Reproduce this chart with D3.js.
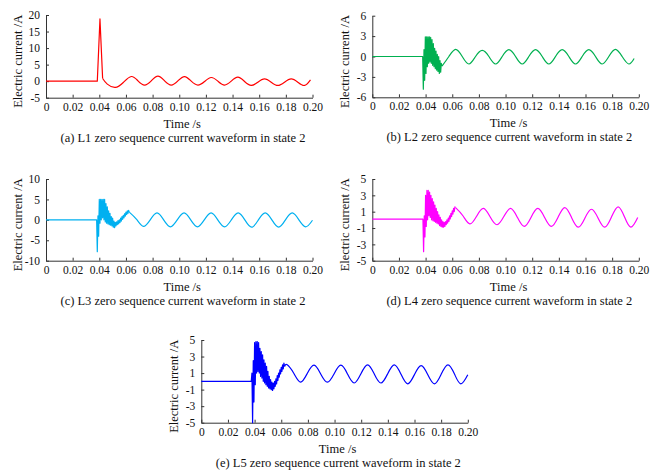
<!DOCTYPE html>
<html>
<head>
<meta charset="utf-8">
<script src="https://cdn.jsdelivr.net/npm/d3@7"></script>
<style>
  body { margin: 0; background: #fff; }
  svg { display: block; font-family: "Liberation Serif", "Times New Roman", serif; }
  .axis path, .axis line { stroke: #333; }
  .axis text { font-size: 11.5px; fill: #111; font-family: "Liberation Serif", "Times New Roman", serif; }
  .label { font-size: 12.5px; fill: #111; }
  .line { fill: none; stroke-width: 1.2; stroke-linejoin: round; }
</style>
</head>
<body>
<svg id="chart" width="651" height="475"></svg>
<script>
// shared time axis
var xTicks = [0, 0.02, 0.04, 0.06, 0.08, 0.10, 0.12, 0.14, 0.16, 0.18, 0.20];
var xTickLabels = ["0", "0.02", "0.04", "0.06", "0.08", "0.10", "0.12", "0.14", "0.16", "0.18", "0.20"];

var captions = [
  "(a) L1 zero sequence current waveform in state 2",
  "(b) L2 zero sequence current waveform in state 2",
  "(c) L3 zero sequence current waveform in state 2",
  "(d) L4 zero sequence current waveform in state 2",
  "(e) L5 zero sequence current waveform in state 2"
];

var l1Ticks = [-5, 0, 5, 10, 15, 20];
var l2Ticks = [-6, -3, 0, 3, 6];
var l3Ticks = [-10, -5, 0, 5, 10];
var l4Ticks = [-5, -3, -1, 1, 3, 5];
var l5Ticks = [-5, -3, -1, 1, 3, 5];

// sampling step of the fault bursts (s)
var burstStep = 0.0005;

// L1: spike then slow oscillation
var l1Spike = [[0, 0], [0.0385, 0], [0.0405, 18.8], [0.0425, 0.8]];
var l1Wave = [[0.0425, 0.8], [0.046, -0.9], [0.052, -1.9], [0.058, -0.4], [0.064, 1.4], [0.069, 0.1],
  [0.074, -1.2], [0.079, 0.1], [0.084, 1.5], [0.089, 0.1], [0.094, -1.2], [0.099, 0.1], [0.104, 1.4],
  [0.109, 0], [0.114, -1.2], [0.119, -0.1], [0.124, 1.1], [0.129, 0], [0.134, -1.2], [0.139, 0],
  [0.144, 1.2], [0.149, -0.1], [0.154, -1.3], [0.159, -0.3], [0.164, 0.7], [0.169, -0.3], [0.174, -1.3],
  [0.179, -0.3], [0.184, 0.7], [0.189, -0.3], [0.194, -1.3], [0.1985, 0.4]];

// L2
var l2Base = 0, l2BurstStart = 0.0378;
var l2Burst = [-4.8, 1.0, -3.5, 2.9, -2.5, 2.9, -1.5, 2.9, -1.0, 2.9, -0.8, 2.8, -1.0, 2.5, -1.3, 1.9,
  -1.5, 1.2, -1.8, 0.8, -2.0, 0.3, -2.2, 0.0, -2.5, -0.6, -2.3, -1.0, -1.4];
var l2Wave = [[0.0523, -1.4], [0.0575, 0], [0.0625, 1.05], [0.0675, 0], [0.0725, -1.1], [0.0775, 0],
  [0.0825, 0.9], [0.0875, 0], [0.0925, -1.1], [0.0975, 0], [0.1025, 1.0], [0.1075, 0], [0.1125, -1.1],
  [0.1175, 0], [0.1225, 1.0], [0.1275, 0], [0.1325, -1.1], [0.1375, 0], [0.1425, 1.0], [0.1475, 0],
  [0.1525, -1.1], [0.1575, 0], [0.1625, 1.0], [0.1675, 0], [0.1725, -1.1], [0.1775, 0], [0.1825, 1.05],
  [0.1875, 0], [0.1925, -1.1], [0.1965, -0.3]];

// L3
var l3Base = 0, l3BurstStart = 0.038;
var l3Burst = [-7.8, 1.0, -4.0, 5.0, -0.8, 5.0, 0.0, 5.0, 0.5, 5.0, 0.0, 5.0, -0.5, 4.0, -0.8, 3.2,
  -1.0, 2.2, -1.2, 1.6, -1.3, 0.8, -1.5, 0.4, -1.8, -0.3, -1.9, -0.6, -1.5, -0.5, -1.2, -0.2, -1.0, 0.0,
  -0.7, 0.4, -0.3, 0.8, 0.1, 1.1, 0.5, 1.5, 0.9, 1.9, 1.3, 2.2, 1.6, 2.3, 1.9];
var l3Wave = [[0.0625, 1.9], [0.068, 0.1], [0.0731, -1.6], [0.0782, 0], [0.0833, 1.7], [0.0883, 0],
  [0.0934, -1.7], [0.0985, 0], [0.1036, 1.7], [0.1086, 0], [0.1137, -1.7], [0.1188, 0], [0.1239, 1.7],
  [0.1289, 0], [0.134, -1.7], [0.1391, 0], [0.1442, 1.7], [0.1492, 0], [0.1543, -1.8], [0.1594, 0],
  [0.1645, 1.7], [0.1695, 0], [0.1746, -1.8], [0.1797, 0], [0.1848, 1.7], [0.1898, 0], [0.1949, -1.7],
  [0.2, -0.1]];

// L4
var l4Base = 0.1, l4BurstStart = 0.038;
var l4Burst = [-3.9, 0.5, -2.1, 3.0, -0.8, 3.6, 0.0, 3.6, 0.5, 3.4, 0.3, 3.0, 0.0, 2.6, -0.1, 2.2,
  -0.2, 1.8, -0.3, 1.4, -0.4, 1.0, -0.5, 0.6, -0.7, 0.3, -0.8, 0.0, -0.9, -0.2, -0.9, -0.3, -0.8, -0.2,
  -0.6, 0.0, -0.4, 0.2, -0.2, 0.5, 0.1, 0.8, 0.4, 1.1, 0.7, 1.4, 1.0, 1.6, 1.5];
var l4Wave = [[0.0625, 1.5], [0.068, 0.5], [0.0732, -0.5], [0.0783, 0.45], [0.0834, 1.4], [0.0885, 0.35],
  [0.0936, -0.6], [0.0987, 0.4], [0.1038, 1.4], [0.1089, 0.3], [0.114, -0.8], [0.1191, 0.3], [0.1242, 1.4],
  [0.1293, 0.3], [0.1344, -0.8], [0.1395, 0.35], [0.1445, 1.5], [0.1495, 0.3], [0.1545, -0.9], [0.1595, 0.2],
  [0.1645, 1.3], [0.1695, 0.2], [0.1745, -0.9], [0.1795, 0.35], [0.1845, 1.6], [0.1893, 0.35], [0.194, -0.9],
  [0.1992, 0.3]];

// L5
var l5Base = 0, l5BurstStart = 0.0375;
var l5Burst = [1.0, -5.0, 2.5, -2.5, 4.7, -0.4, 4.8, 1.0, 4.8, 1.2, 4.7, 1.0, 4.0, 0.6, 3.6, 0.4,
  3.2, 0.0, 2.6, -0.2, 2.2, -0.4, 1.8, -0.6, 1.2, -0.8, 0.6, -0.9, 0.2, -1.0, -0.1, -1.1, -0.2, -0.9,
  0.0, -0.6, 0.3, -0.3, 0.7, 0.1, 1.0, 0.5, 1.4, 0.9, 1.7, 1.2, 2.0, 1.5, 2.2, 1.8];
var l5Wave = [[0.0625, 1.8], [0.0645, 2.0], [0.0695, 0.95], [0.0745, -0.1], [0.0795, 0.95], [0.0846, 1.95],
  [0.0896, 0.9], [0.0946, -0.1], [0.0996, 0.9], [0.1047, 1.95], [0.1097, 0.9], [0.1147, -0.2], [0.1197, 0.9],
  [0.1248, 2.0], [0.1298, 0.9], [0.1348, -0.2], [0.1398, 0.9], [0.1449, 2.0], [0.1499, 0.85], [0.1549, -0.3],
  [0.1599, 0.8], [0.165, 1.9], [0.17, 0.8], [0.175, -0.3], [0.18, 0.85], [0.1851, 2.0], [0.1901, 0.85],
  [0.1948, -0.3], [0.2, 0.8]];

// flat pre-fault line followed by the sampled burst
function withBurst(base, start, values) {
  var pts = [[0, base], [start, base]];
  values.forEach(function(v, i) { pts.push([start + (i + 1) * burstStep, v]); });
  return pts;
}

var panels = [
  { ticks: l1Ticks, head: l1Spike, wave: l1Wave, color: "#ff0000" },
  { ticks: l2Ticks, head: withBurst(l2Base, l2BurstStart, l2Burst), wave: l2Wave, color: "#00b050" },
  { ticks: l3Ticks, head: withBurst(l3Base, l3BurstStart, l3Burst), wave: l3Wave, color: "#00b0f0" },
  { ticks: l4Ticks, head: withBurst(l4Base, l4BurstStart, l4Burst), wave: l4Wave, color: "#ff00ff" },
  { ticks: l5Ticks, head: withBurst(l5Base, l5BurstStart, l5Burst), wave: l5Wave, color: "#0000ff" }
];

// plot boxes in page pixels
var layout = [
  { left: 46, top: 15, bottom: 97.7 },
  { left: 372.3, top: 15.7, bottom: 97.3 },
  { left: 46, top: 179, bottom: 260.7 },
  { left: 372.3, top: 179, bottom: 260.7 },
  { left: 201.3, top: 340, bottom: 422.7 }
];
var plotW = 266.5;

var svg = d3.select("#chart");

panels.forEach(function(p, i) {
  var box = layout[i];
  var plotH = box.bottom - box.top;

  var x = d3.scaleLinear().domain([0, 0.2]).range([0, plotW]);
  var y = d3.scaleLinear().domain(d3.extent(p.ticks)).range([plotH, 0]);

  var g = svg.append("g")
    .attr("transform", "translate(" + box.left + "," + box.top + ")");

  g.append("g")
    .attr("class", "axis")
    .attr("transform", "translate(0," + plotH + ")")
    .call(d3.axisBottom(x)
      .tickValues(xTicks)
      .tickFormat(function(d, j) { return xTickLabels[j]; })
      .tickSizeInner(-3)
      .tickSizeOuter(0)
      .tickPadding(5));

  g.append("g")
    .attr("class", "axis")
    .call(d3.axisLeft(y)
      .tickValues(p.ticks)
      .tickFormat(String)
      .tickSizeInner(-3)
      .tickSizeOuter(0)
      .tickPadding(6));

  var linear = d3.line().x(d => x(d[0])).y(d => y(d[1]));
  var smooth = d3.line().x(d => x(d[0])).y(d => y(d[1])).curve(d3.curveNatural);

  g.append("path")
    .attr("class", "line")
    .attr("stroke", p.color)
    .attr("stroke-width", 1)
    .attr("d", linear(p.head));

  g.append("path")
    .attr("class", "line")
    .attr("stroke", p.color)
    .attr("d", smooth(p.wave));

  svg.append("text")
    .attr("class", "label")
    .attr("text-anchor", "middle")
    .attr("dy", "0.35em")
    .attr("transform", "translate(" + (box.left - 28) + "," + ((box.top + box.bottom) / 2 + 5) + ") rotate(-90)")
    .text("Electric current /A");

  svg.append("text")
    .attr("class", "label")
    .attr("text-anchor", "middle")
    .attr("x", box.left + plotW / 2 + 3)
    .attr("y", box.bottom + 30)
    .text("Time /s");

  svg.append("text")
    .attr("class", "label")
    .attr("text-anchor", "middle")
    .attr("x", box.left + 137)
    .attr("y", box.bottom + 44)
    .text(captions[i]);
});
</script>
</body>
</html>
